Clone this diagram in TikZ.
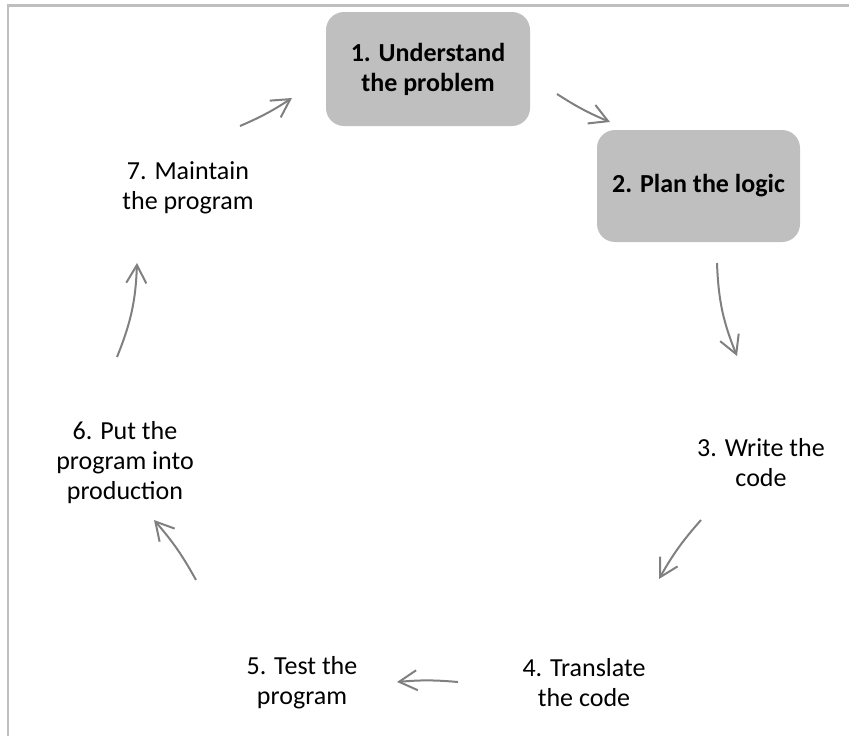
\documentclass[tikz,border=0pt]{standalone}
\usepackage{fontspec}
\setmainfont{Carlito}
\usetikzlibrary{arrows.meta}
\definecolor{boxgray}{HTML}{BFBFBF}
\definecolor{arrowgray}{HTML}{808080}
\definecolor{framegray}{HTML}{BFBFBF}
\begin{document}
\begin{tikzpicture}[x=1pt,y=-1pt,
  steplabel/.style={align=center,font=\fontsize{26}{30}\selectfont,inner sep=0pt},
  stepbox/.style={align=center,font=\bfseries\fontsize{26}{30}\selectfont,inner sep=0pt,
    fill=boxgray,rounded corners=18pt},
  cyclearrow/.style={draw=arrowgray,line width=2pt,
    -{Straight Barb[length=18pt,width=20pt]}}]
\useasboundingbox (0,0) rectangle (849,736);
% page frame (left and top edges only)
\draw[framegray,line width=2.3pt] (7.7,736) -- (7.7,5.5) -- (849,5.5);

% steps of the cycle
\node[stepbox,minimum width=204pt,minimum height=114pt] (s1) at (428,69) {1. Understand\\the problem};
\node[stepbox,minimum width=203pt,minimum height=112pt] (s2) at (698.5,186) {2. Plan the logic};
\node[steplabel] (s3) at (761,463) {3. Write the\\code};
\node[steplabel] (s4) at (584,683) {4. Translate\\the code};
\node[steplabel] (s5) at (302,683) {5. Test the\\program};
\node[steplabel] (s6) at (125,463) {6. Put the\\program into\\production};
\node[steplabel] (s7) at (188,188) {7. Maintain\\the program};

% arrow end points
\coordinate (a12s) at (557,94);  \coordinate (a12e) at (610,122);
\coordinate (a23s) at (717,263); \coordinate (a23e) at (737,356);
\coordinate (a34s) at (701,520); \coordinate (a34e) at (659,579);
\coordinate (a45s) at (458,682); \coordinate (a45e) at (397,682);
\coordinate (a56s) at (196,580); \coordinate (a56e) at (154,520);
\coordinate (a67s) at (117,357); \coordinate (a67e) at (137,263);
\coordinate (a71s) at (240,126); \coordinate (a71e) at (292,98);

\draw[cyclearrow] (a12s) to[bend right=5] (a12e);
\draw[cyclearrow] (a23s) to[bend right=10] (a23e);
\draw[cyclearrow] (a34s) to[bend right=6] (a34e);
\draw[cyclearrow] (a45s) to[bend right=5] (a45e);
\draw[cyclearrow] (a56s) to[bend right=6] (a56e);
\draw[cyclearrow] (a67s) to[bend right=10] (a67e);
\draw[cyclearrow] (a71s) to[bend right=5] (a71e);
\end{tikzpicture}
\end{document}
